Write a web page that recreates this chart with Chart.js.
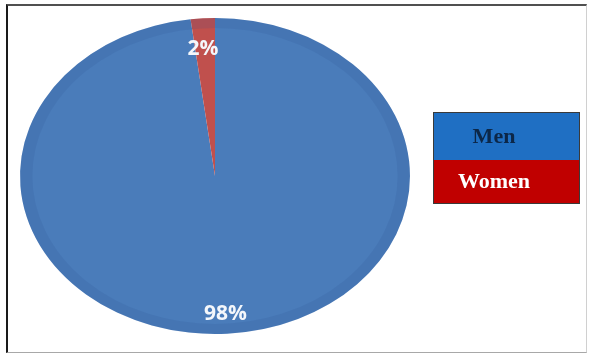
<!DOCTYPE html>
<html>
<head>
<meta charset="utf-8">
<script src="https://cdn.jsdelivr.net/npm/chart.js@4/dist/chart.umd.min.js"></script>
<style>
    html, body { margin: 0; padding: 0; background: #fff; }
    #wrap { position: relative; width: 590px; height: 353px; }
    #frame {
        position: absolute; left: 6px; top: 4px; width: 578px; height: 346px;
        border-top: 2px solid #505050; border-left: 2px solid #1a1a1a;
        border-right: 1px solid #d0d0d0; border-bottom: 1px solid #a8a8a8;
        pointer-events: none;
    }
    canvas { position: absolute; left: 0; top: 0; }
</style>
</head>
<body>
<div id="wrap">
    <canvas id="genderPie" width="590" height="353"></canvas>
    <div id="frame"></div>
</div>
<script>
const categories = ['Men', 'Women'];
const shares = [98, 2];
const sliceColors = ['#4a7cba', '#c0504d'];
const legendColors = ['#1f6fc3', '#c00000'];
const legendTextColors = ['#0c2748', '#ffffff'];

// pie is drawn as a circle and stretched sideways into an ellipse
const stretchX = 1.234;

const ellipsePie = {
    id: 'ellipsePie',
    beforeDatasetsDraw(chart) {
        const arc = chart.getDatasetMeta(0).data[0];
        const ctx = chart.ctx;
        ctx.save();
        ctx.translate(arc.x, arc.y);
        ctx.scale(stretchX, 1);
        ctx.translate(-arc.x, -arc.y);
    },
    afterDatasetsDraw(chart) {
        const ctx = chart.ctx;
        const arc = chart.getDatasetMeta(0).data[0];
        // darker rim round the edge
        ctx.beginPath();
        ctx.arc(arc.x, arc.y, arc.outerRadius - 5, 0, Math.PI * 2);
        ctx.lineWidth = 10;
        ctx.strokeStyle = 'rgba(40, 80, 140, 0.14)';
        ctx.stroke();
        ctx.restore();

        // percentage labels
        const fracs = [0.86, 0.82];
        ctx.save();
        ctx.font = 'bold 21px "Open Sans"';
        ctx.fillStyle = '#f4f7fb';
        ctx.textAlign = 'center';
        ctx.textBaseline = 'middle';
        chart.getDatasetMeta(0).data.forEach((el, i) => {
            const mid = (el.startAngle + el.endAngle) / 2;
            const r = el.outerRadius * fracs[i];
            const x = el.x + Math.cos(mid) * r * stretchX;
            const y = el.y + Math.sin(mid) * r;
            ctx.fillText(shares[i] + '%', x - (i ? 2 : 0), y + 2);
        });
        ctx.restore();
    }
};

const boxLegend = {
    id: 'boxLegend',
    afterDraw(chart) {
        const ctx = chart.ctx;
        const left = 433, top = 112, w = 146, h = [48, 43];
        let y = top;
        ctx.save();
        categories.forEach((name, i) => {
            ctx.fillStyle = legendColors[i];
            ctx.fillRect(left, y, w, h[i]);
            ctx.font = 'bold 22px "Liberation Serif"';
            ctx.fillStyle = legendTextColors[i];
            ctx.textAlign = 'center';
            ctx.textBaseline = 'middle';
            ctx.fillText(name, left + w / 2 - 12, y + h[i] / 2 + 1);
            y += h[i];
        });
        ctx.strokeStyle = '#3a3a3a';
        ctx.lineWidth = 1;
        ctx.strokeRect(left + 0.5, top + 0.5, w, h[0] + h[1]);
        ctx.restore();
    }
};

new Chart(document.getElementById('genderPie'), {
    type: 'pie',
    data: {
        labels: categories,
        datasets: [{
            data: shares,
            backgroundColor: sliceColors,
            borderWidth: 0
        }]
    },
    options: {
        responsive: false,
        animation: false,
        layout: { padding: { left: 57, right: 217, top: 18, bottom: 19 } },
        plugins: {
            legend: { display: false },
            tooltip: { enabled: false }
        }
    },
    plugins: [ellipsePie, boxLegend]
});
</script>
</body>
</html>
